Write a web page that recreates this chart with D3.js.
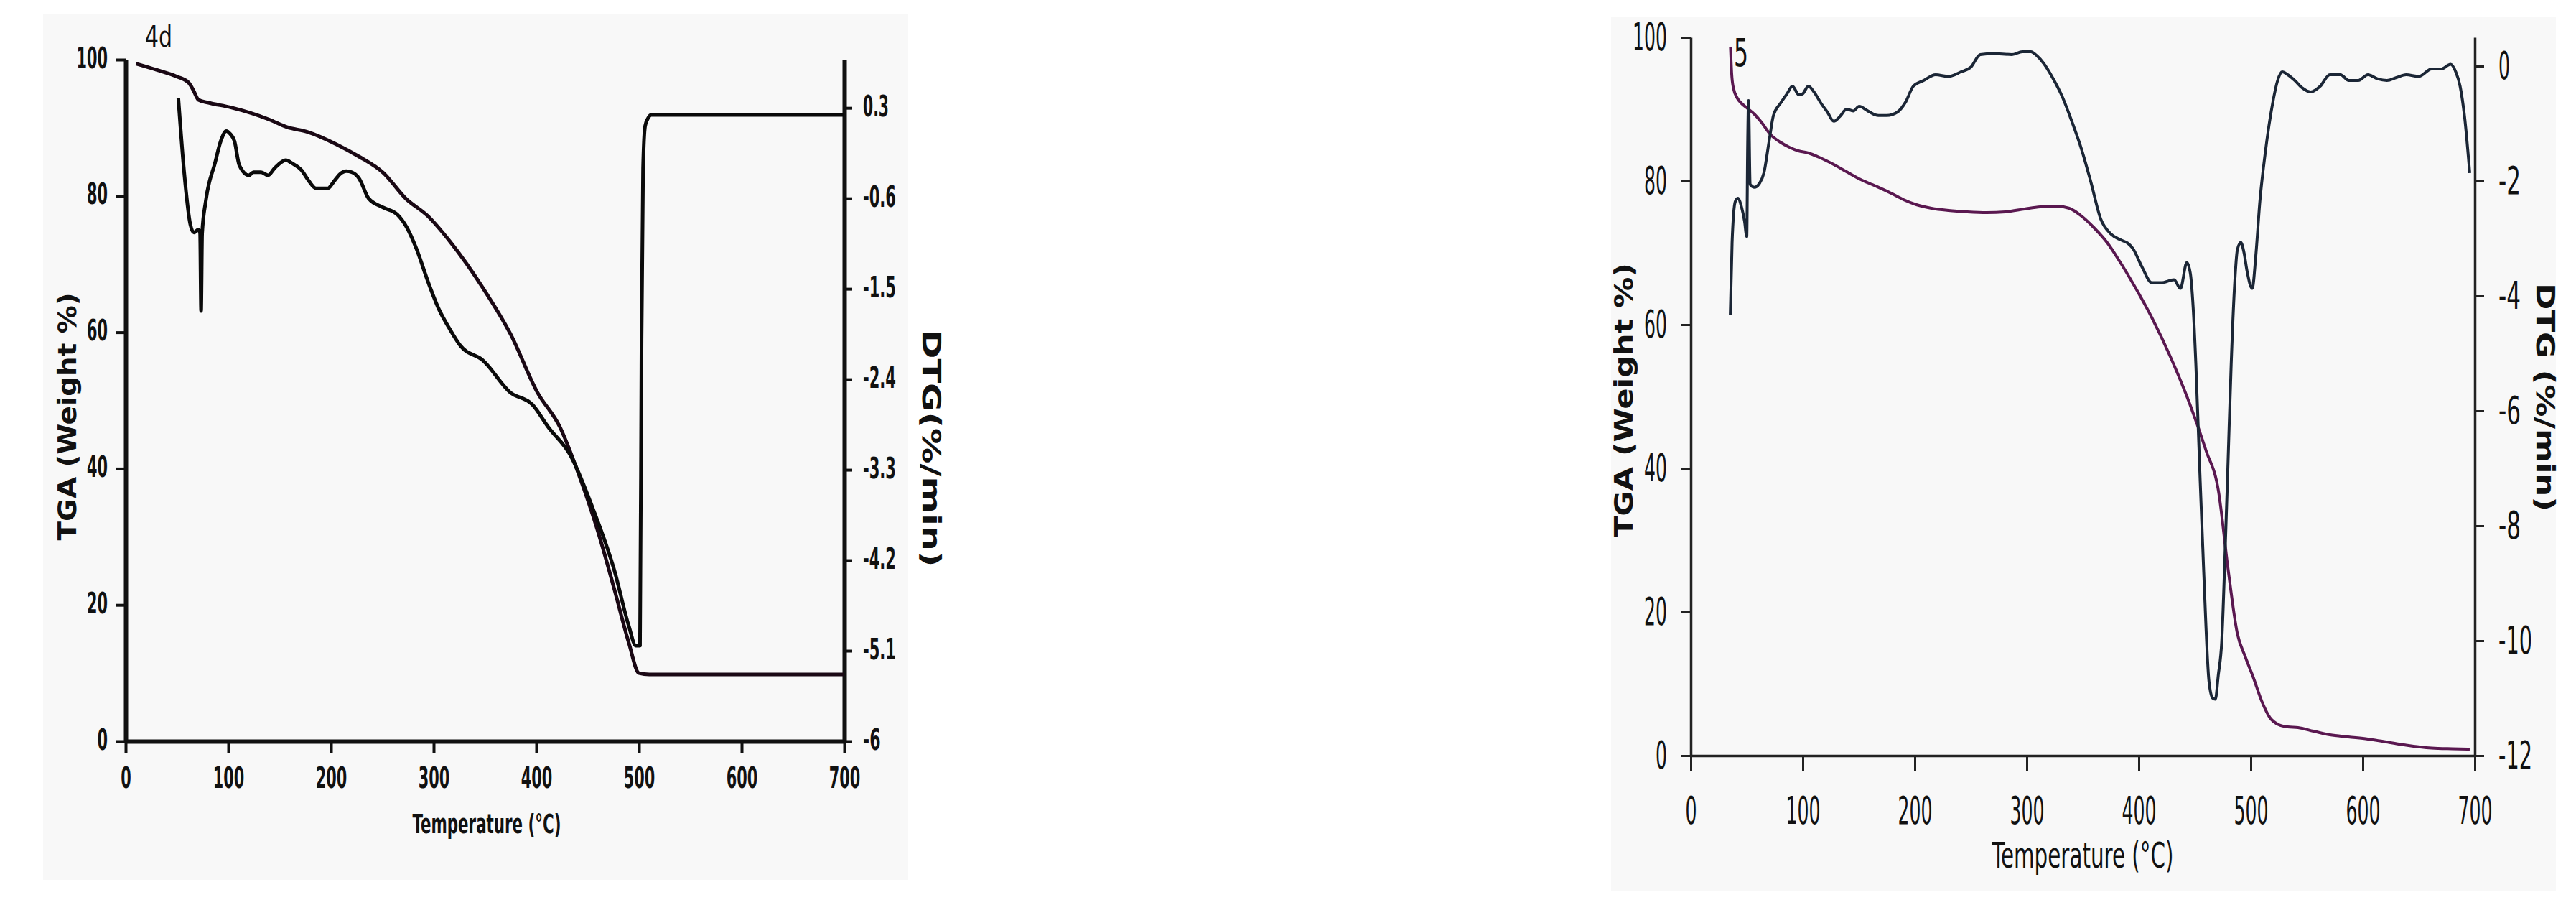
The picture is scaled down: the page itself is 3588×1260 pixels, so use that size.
<!DOCTYPE html>
<html><head><meta charset="utf-8">
<script src="https://cdn.jsdelivr.net/npm/d3@7"></script>
<style>body{margin:0;background:#fff}svg{display:block}</style>
</head><body>
<svg id="chart" width="3588" height="1260"></svg>
<script>
// ---------- data ----------
const tempTicks = [0, 100, 200, 300, 400, 500, 600, 700];
const tgaTicks = [0, 20, 40, 60, 80, 100];
const dtg4dTicks = [0.3, -0.6, -1.5, -2.4, -3.3, -4.2, -5.1, -6];
const dtg5Ticks = [0, -2, -4, -6, -8, -10, -12];

// sample 4d : TGA
const tga4dTemp = [10, 30, 50, 61.5, 66, 71, 80, 102, 140, 157, 177, 205, 227, 251, 273, 294, 316, 348, 375, 401, 423, 441, 460, 476, 490, 500, 510, 700];
const tga4dWeight = [99.4, 98.5, 97.5, 96.6, 95.5, 94.1, 93.7, 93.0, 91.2, 90.1, 89.4, 87.6, 85.8, 83.4, 79.6, 77.1, 73.3, 66.5, 59.7, 51.2, 46.1, 39.3, 30.8, 22.3, 14.5, 10, 9.8, 9.8];
// sample 4d : DTG
const dtg4dTemp = [51.3, 57, 63, 66.5, 71, 72.5, 73.5, 74.5, 78, 87, 93, 98, 102, 106, 110.7, 120, 124.7, 132, 138.7, 145, 150.3, 156, 162, 171.3, 178, 185.3, 197, 203, 208.6, 215, 220.3, 227.3, 236.6, 250.6, 264.5, 273.9, 283.2, 294.9, 305, 315.7, 326.4, 347.9, 374.6, 396, 412, 433.5, 454.9, 476.3, 490, 497, 501, 502.5, 504, 506, 509, 512, 700];
const dtg4dRate = [0.40, -0.34, -0.86, -0.94, -0.91, -0.95, -1.72, -0.95, -0.63, -0.25, -0.02, 0.07, 0.04, -0.03, -0.27, -0.37, -0.34, -0.34, -0.37, -0.30, -0.25, -0.22, -0.25, -0.32, -0.42, -0.50, -0.50, -0.43, -0.36, -0.33, -0.34, -0.40, -0.60, -0.69, -0.76, -0.89, -1.10, -1.44, -1.70, -1.90, -2.07, -2.21, -2.53, -2.65, -2.88, -3.16, -3.68, -4.31, -4.85, -5.05, -5.05, -2.0, -0.3, 0.12, 0.20, 0.23, 0.23];

// sample 5 : TGA
const tga5Temp = [35.5, 36.5, 38, 41.7, 45.4, 50, 56.8, 63, 71, 80, 88, 96, 105, 116, 127.7, 139, 150.4, 165, 178.8, 190, 201.5, 215, 230, 247, 264, 281, 298, 312, 326.4, 338, 349, 360, 371.9, 383, 394.6, 411.6, 428.6, 445.7, 460, 471.2, 479.7, 488, 495, 502, 510, 517, 525, 533, 542.2, 556, 570.6, 587, 604.6, 621, 638.7, 661.4, 680, 695.5];
const tga5Weight = [98.6, 95, 93, 91.5, 90.8, 90.2, 89.3, 88.2, 86.5, 85.4, 84.7, 84.2, 83.9, 83.2, 82.3, 81.3, 80.3, 79.3, 78.3, 77.4, 76.7, 76.2, 75.9, 75.7, 75.6, 75.7, 76.1, 76.4, 76.5, 76.2, 75.1, 73.5, 71.4, 68.8, 65.8, 61, 55.4, 48.9, 42.5, 36.8, 26, 17, 13.8, 11, 7.5, 5.3, 4.3, 4.0, 3.9, 3.4, 2.9, 2.6, 2.3, 1.9, 1.45, 1.05, 0.95, 0.9];
// sample 5 : DTG
const dtg5Temp = [35.3, 36.9, 39.7, 42, 45.4, 48, 50, 50.8, 51.6, 53, 56.8, 61, 65.3, 70, 73.8, 80, 86, 90.8, 96.5, 100, 105, 110, 116.4, 122, 127.7, 133, 139.1, 145, 150.4, 158, 167.5, 175, 184.5, 192, 198.7, 208, 218.6, 230, 241.3, 250, 258.4, 270, 286.7, 296, 303.7, 309, 315, 323, 332.1, 340, 349.1, 357, 366.2, 375, 383.2, 390, 394.6, 403, 411.6, 420, 431.5, 437.2, 442.9, 446, 448.5, 451, 454.2, 458, 462.7, 466, 468.4, 471, 474.1, 477, 479.7, 482.5, 485.4, 488, 491.1, 494, 496.7, 501.3, 504.5, 508.1, 513, 519.5, 524, 528, 533, 539.3, 546, 553.5, 562, 570.6, 580, 587.6, 596, 604.6, 613, 621.6, 630, 638.7, 650, 661.4, 670, 678.4, 683, 686.9, 691, 695.5];
const dtg5Rate = [-4.33, -3.07, -2.36, -2.30, -2.46, -2.70, -2.97, -1.4, -0.60, -2.06, -2.11, -2.05, -1.86, -1.3, -0.86, -0.65, -0.48, -0.35, -0.50, -0.48, -0.35, -0.45, -0.65, -0.80, -0.96, -0.88, -0.75, -0.78, -0.70, -0.78, -0.86, -0.86, -0.80, -0.62, -0.35, -0.25, -0.15, -0.18, -0.10, -0.02, 0.20, 0.22, 0.20, 0.25, 0.25, 0.18, 0.05, -0.2, -0.55, -0.95, -1.46, -2.0, -2.67, -2.92, -3.02, -3.08, -3.17, -3.5, -3.77, -3.77, -3.72, -3.87, -3.42, -3.6, -4.18, -5.2, -6.89, -8.8, -10.71, -11.0, -11.02, -10.6, -10.01, -8.5, -6.89, -5.2, -3.87, -3.2, -3.07, -3.25, -3.57, -3.87, -3.3, -2.36, -1.5, -0.65, -0.25, -0.10, -0.15, -0.25, -0.38, -0.45, -0.35, -0.15, -0.15, -0.25, -0.25, -0.15, -0.22, -0.25, -0.20, -0.15, -0.18, -0.05, -0.05, 0.03, -0.10, -0.35, -0.9, -1.86];

// ---------- drawing ----------
const svg = d3.select('#chart');
const FAM = "'Liberation Sans Narrow','DejaVu Sans Condensed','Liberation Sans',sans-serif";
const zip = (a, b) => a.map((v, i) => [v, b[i]]);

function charW(s, dig, minus, dot) {
  let w = 0;
  for (const c of s) w += c === '-' ? minus : (c === '.' ? dot : dig);
  return w;
}

function styleAxis(g, o) {
  g.select('.domain').attr('stroke', o.color).attr('stroke-width', o.sw);
  g.selectAll('.tick line').attr('stroke', o.color).attr('stroke-width', o.tsw);
  g.selectAll('.tick text')
    .attr('fill', '#111')
    .attr('font-family', FAM)
    .attr('font-size', o.fs)
    .attr('font-weight', o.fw || 'normal')
    .attr('dy', null)
    .attr('lengthAdjust', 'spacingAndGlyphs')
    .each(function () {
      const t = d3.select(this);
      t.attr('textLength', charW(t.text(), o.dig, o.minus, o.dot));
      if (o.tx !== undefined) t.attr('x', o.tx);
      if (o.ty !== undefined) t.attr('y', o.ty);
      if (o.anchor) t.attr('text-anchor', o.anchor);
    });
}

function label(txt, x, y, o) {
  const t = svg.append('text').text(txt)
    .attr('font-family', o.fam || FAM)
    .attr('font-size', o.fs)
    .attr('font-weight', o.fw || 'normal')
    .attr('fill', '#111')
    .attr('text-anchor', o.anchor || 'middle')
    .attr('lengthAdjust', 'spacingAndGlyphs')
    .attr('textLength', o.len);
  if (o.rot) t.attr('transform', `translate(${x},${y}) rotate(${o.rot})`);
  else t.attr('x', x).attr('y', y);
  return t;
}

// panels
svg.append('rect').attr('x', 60).attr('y', 20).attr('width', 1205).attr('height', 1205).attr('fill', '#f8f8f8');
svg.append('rect').attr('x', 2244).attr('y', 23).attr('width', 1316).attr('height', 1217).attr('fill', '#f8f8f8');

// ===== chart 4d =====
{
  const x = d3.scaleLinear().domain([0, 700]).range([175, 1176]);
  const yT = d3.scaleLinear().domain([0, 100]).range([1032, 83]);
  const yD = d3.scaleLinear().domain([-6, 0.78]).range([1032, 83]);
  const base = { color: '#111', fs: 40, fw: 'bold', dig: 14.5, minus: 10, dot: 7 };

  const gx = svg.append('g').attr('transform', 'translate(0,1032)')
    .call(d3.axisBottom(x).tickValues(tempTicks).tickSize(16).tickSizeOuter(0).tickFormat(String));
  styleAxis(gx, { ...base, sw: 6, tsw: 4, ty: 65 });

  const gyl = svg.append('g').attr('transform', 'translate(175,0)')
    .call(d3.axisLeft(yT).tickValues(tgaTicks).tickSize(13).tickSizeOuter(0).tickFormat(String));
  styleAxis(gyl, { ...base, sw: 6, tsw: 4, tx: -25, ty: 11, anchor: 'end' });

  const gyr = svg.append('g').attr('transform', 'translate(1176,0)')
    .call(d3.axisRight(yD).tickValues(dtg4dTicks).tickSize(11).tickSizeOuter(0).tickFormat(String));
  styleAxis(gyr, { ...base, sw: 6, tsw: 4, tx: 26, ty: 11, anchor: 'start' });

  const lineT = d3.line().x(d => x(d[0])).y(d => yT(d[1])).curve(d3.curveMonotoneX);
  const lineD = d3.line().x(d => x(d[0])).y(d => yD(d[1])).curve(d3.curveMonotoneX);
  svg.append('path').attr('d', lineT(zip(tga4dTemp, tga4dWeight)))
    .attr('fill', 'none').attr('stroke', '#1a0814').attr('stroke-width', 5).attr('stroke-linejoin', 'round');
  svg.append('path').attr('d', lineD(zip(dtg4dTemp, dtg4dRate)))
    .attr('fill', 'none').attr('stroke', '#0a0a0a').attr('stroke-width', 5).attr('stroke-linejoin', 'round');

  label('4d', 202, 65, { fs: 40, len: 38, anchor: 'start' });
  label('TGA (Weight %)', 106, 580, { fs: 36, fw: 'bold', len: 345, rot: -90 });
  label('DTG(%/min)', 1285, 624, { fs: 36, fw: 'bold', len: 331, rot: 90 });
  label('Temperature (°C)', 678, 1160, { fs: 38, fw: 'bold', len: 207 });
}

// ===== chart 5 =====
{
  const x = d3.scaleLinear().domain([0, 700]).range([2355, 3447]);
  const yT = d3.scaleLinear().domain([0, 100]).range([1052, 52]);
  const yD = d3.scaleLinear().domain([-12, 0.5]).range([1052, 52]);
  const base = { color: '#222', fs: 54, dig: 16, minus: 15, dot: 7 };

  const gx = svg.append('g').attr('transform', 'translate(0,1052)')
    .call(d3.axisBottom(x).tickValues(tempTicks).tickSize(21).tickSizeOuter(0).tickFormat(String));
  styleAxis(gx, { ...base, sw: 3.5, tsw: 3, ty: 95 });

  const gyl = svg.append('g').attr('transform', 'translate(2355,0)')
    .call(d3.axisLeft(yT).tickValues(tgaTicks).tickSize(13).tickSizeOuter(0).tickFormat(String));
  styleAxis(gyl, { ...base, sw: 3.5, tsw: 3, tx: -33, ty: 17, anchor: 'end' });

  const gyr = svg.append('g').attr('transform', 'translate(3447,0)')
    .call(d3.axisRight(yD).tickValues(dtg5Ticks).tickSize(13).tickSizeOuter(0).tickFormat(String));
  styleAxis(gyr, { ...base, sw: 3.5, tsw: 3, tx: 33, ty: 17, anchor: 'start' });

  const lineT = d3.line().x(d => x(d[0])).y(d => yT(d[1])).curve(d3.curveMonotoneX);
  const lineD = d3.line().x(d => x(d[0])).y(d => yD(d[1])).curve(d3.curveMonotoneX);
  svg.append('path').attr('d', lineT(zip(tga5Temp, tga5Weight)))
    .attr('fill', 'none').attr('stroke', '#5a1850').attr('stroke-width', 4).attr('stroke-linejoin', 'round');
  svg.append('path').attr('d', lineD(zip(dtg5Temp, dtg5Rate)))
    .attr('fill', 'none').attr('stroke', '#1b2636').attr('stroke-width', 4).attr('stroke-linejoin', 'round');

  label('5', 2415, 92, { fs: 54, len: 20, anchor: 'start' });
  label('TGA (Weight %)', 2274, 557, { fs: 36, fw: 'bold', len: 382, rot: -90, fam: "'DejaVu Sans','Liberation Sans',sans-serif" });
  label('DTG (%/min)', 3533, 553, { fs: 36, fw: 'bold', len: 318, rot: 90, fam: "'DejaVu Sans','Liberation Sans',sans-serif" });
  label('Temperature (°C)', 2901, 1208, { fs: 50, len: 253 });
}
</script>
</body></html>
